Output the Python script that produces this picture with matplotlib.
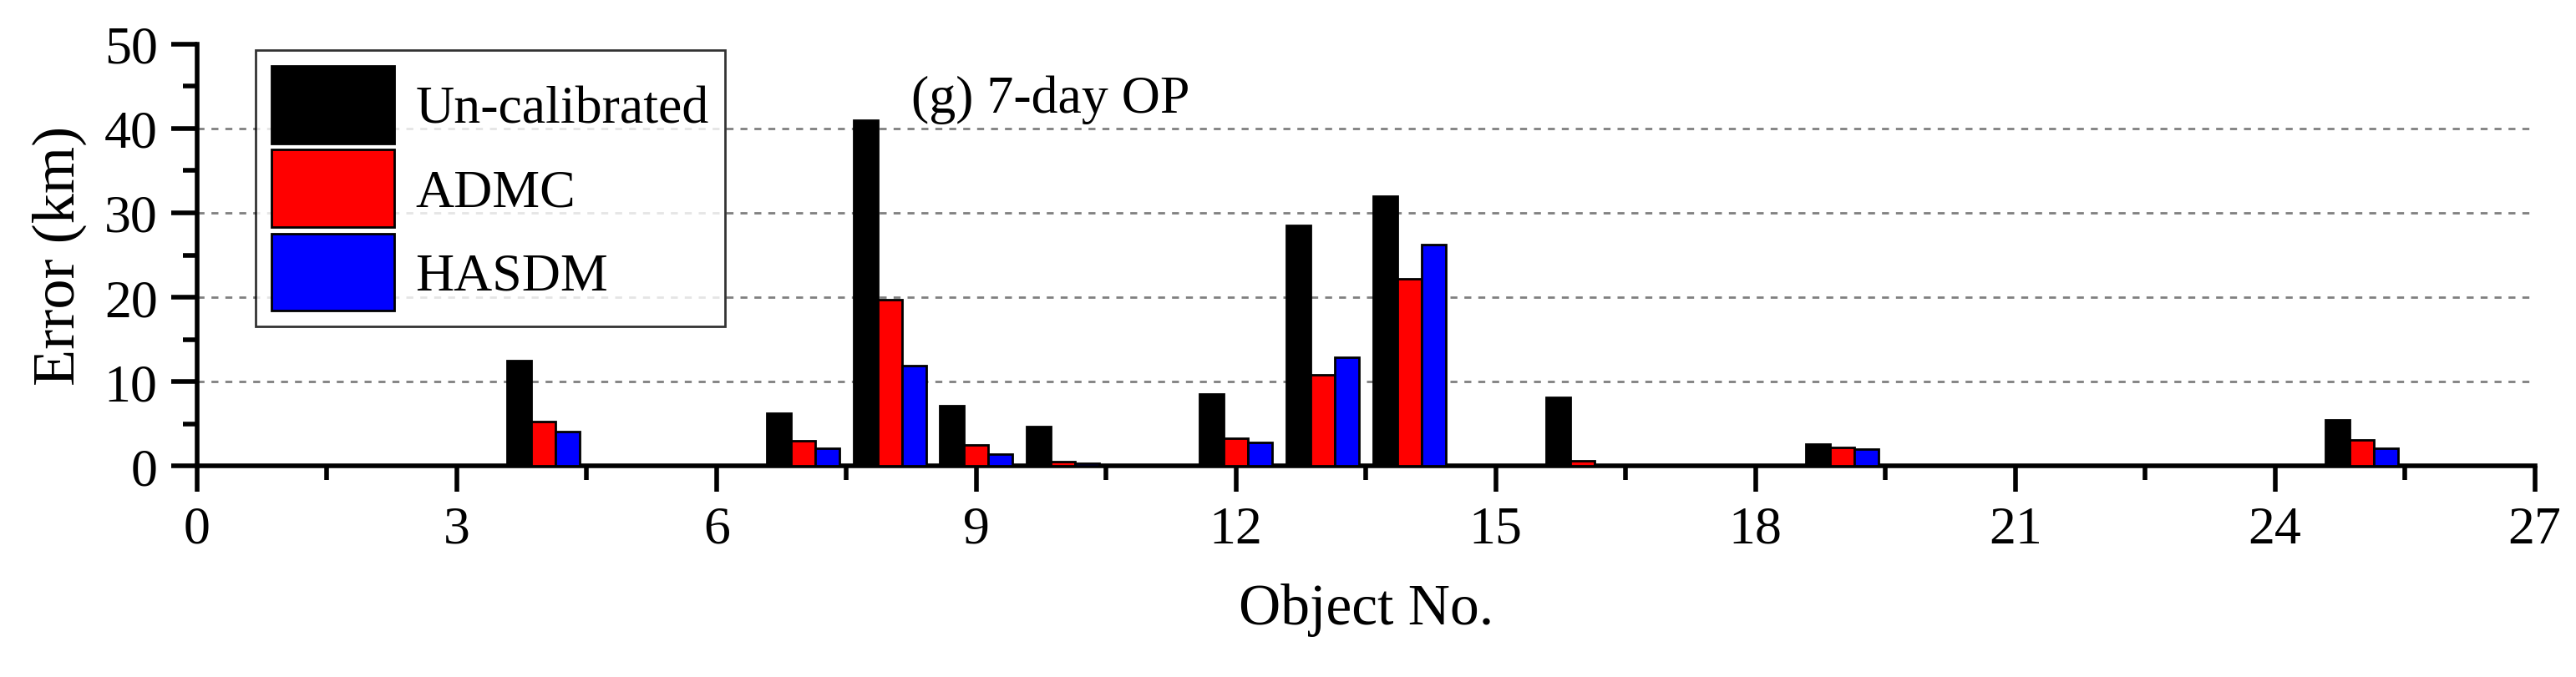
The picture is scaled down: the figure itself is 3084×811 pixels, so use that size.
import numpy as np
import matplotlib
matplotlib.use("Agg")
import matplotlib.pyplot as plt
from matplotlib.ticker import MultipleLocator

# object numbers with non-zero errors
objects = [4, 7, 8, 9, 10, 12, 13, 14, 16, 19, 25]
uncal = [12.5, 6.3, 41.0, 7.2, 4.7, 8.5, 28.5, 32.0, 8.2, 2.6, 5.5]
admc = [5.3, 3.0, 19.7, 2.5, 0.5, 3.3, 10.8, 22.2, 0.6, 2.2, 3.1]
hasdm = [4.1, 2.1, 11.9, 1.4, 0.3, 2.8, 12.9, 26.2, 0.1, 2.0, 2.1]

plt.rcParams['font.family'] = ['Liberation Serif', 'DejaVu Serif']

fig = plt.figure(figsize=(30.84, 8.12), dpi=100)
ax = fig.add_axes([0.0765, 0.311, 0.9075, 0.623])

x = np.array(objects, dtype=float)
w = 0.28
ax.bar(x - w, uncal, w, color="#000000", edgecolor="black", linewidth=2, label="Un-calibrated", zorder=3)
ax.bar(x, admc, w, color="#ff0000", edgecolor="black", linewidth=2, label="ADMC", zorder=3)
ax.bar(x + w, hasdm, w, color="#0000ff", edgecolor="black", linewidth=2, label="HASDM", zorder=3)

ax.set_xlim(0, 27)
ax.set_ylim(0, 50)
ax.xaxis.set_major_locator(MultipleLocator(3))
ax.xaxis.set_minor_locator(MultipleLocator(1.5))
ax.yaxis.set_major_locator(MultipleLocator(10))
ax.yaxis.set_minor_locator(MultipleLocator(5))

for yv in [10, 20, 30, 40]:
    ax.axhline(yv, color="#808080", linestyle=(0, (3, 3)), linewidth=2, zorder=1)

for s in ["top", "right"]:
    ax.spines[s].set_visible(False)
for s in ["left", "bottom"]:
    ax.spines[s].set_linewidth(4)
ax.tick_params(which="major", direction="out", length=22, width=4, labelsize=46, pad=12)
ax.tick_params(which="minor", direction="out", length=12, width=4)

ax.set_xlabel("Object No.", fontsize=50, labelpad=25)
ax.set_ylabel("Error (km)", fontsize=52, labelpad=15)

ax.text(0.365, 0.87, "(g) 7-day OP", transform=ax.transAxes, fontsize=46, ha="center", va="center")

leg = ax.legend(loc="upper left", bbox_to_anchor=(0.025, 0.985), fontsize=46, frameon=True,
                fancybox=False, edgecolor="black", handlelength=2.3, handleheight=1.85,
                handletextpad=0.4, borderpad=0.3, labelspacing=0.12, borderaxespad=0)
leg.get_frame().set_linewidth(2)
leg.set_zorder(5)

fig.savefig("out.png", dpi=100, facecolor="white")
